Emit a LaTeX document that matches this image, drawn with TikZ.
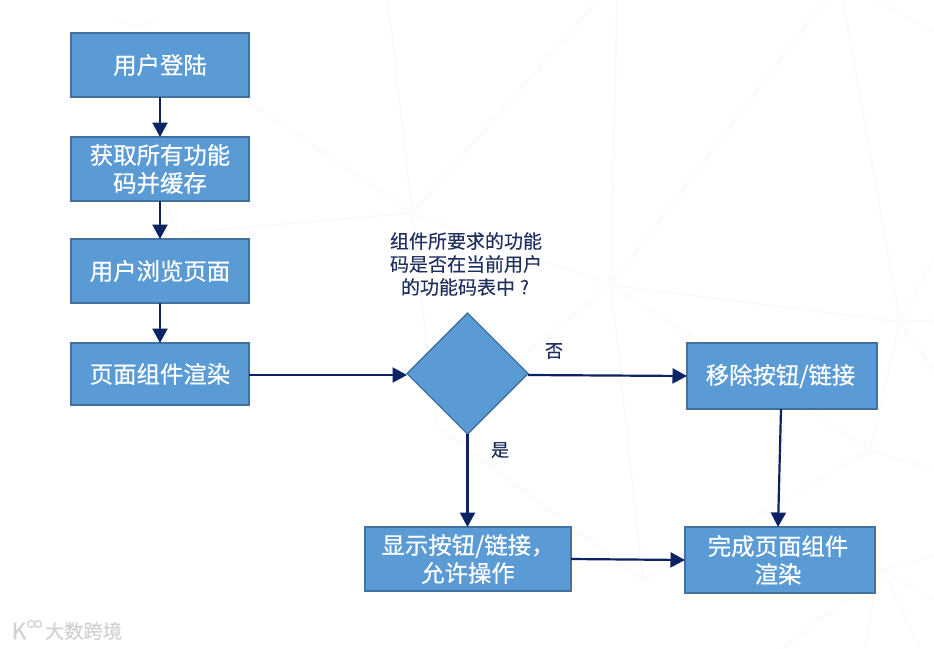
\documentclass[tikz,border=0pt]{standalone}
\usepackage{fontspec}
\setmainfont{Noto Sans CJK SC}
\newfontfamily\heavycjk[FakeBold=0.5]{Noto Sans CJK SC}
\newfontfamily\midcjk[FakeBold=0.2]{Noto Sans CJK SC}
\usetikzlibrary{shapes.geometric,arrows.meta}
\definecolor{boxfill}{HTML}{5B9BD5}
\definecolor{boxedge}{HTML}{41719C}
\definecolor{navy}{HTML}{0B2263}
\definecolor{labeltext}{HTML}{1F2F5F}
\definecolor{bgl}{HTML}{FAFAFA}
\definecolor{wm}{HTML}{D2D2D2}
\tikzset{
  flowbox/.style={rectangle,draw=boxedge,fill=boxfill,line width=1.6pt,text=white,align=center,inner sep=0pt,outer sep=0pt,font=\heavycjk\fontsize{23.4}{28}\selectfont},
  decision/.style={diamond,aspect=1,draw=boxedge,fill=boxfill,line width=1.4pt,inner sep=0pt,outer sep=0pt,minimum width=121pt,minimum height=121pt},
  flowarrow/.style={draw=navy,line width=2.2pt,-{Triangle[length=14.5pt,width=15pt]}},
  note/.style={text=labeltext,align=center,inner sep=0pt,font=\midcjk\fontsize{19}{23}\selectfont},
  branch/.style={text=labeltext,inner sep=0pt,font=\midcjk\fontsize{18}{22}\selectfont},
  bgline/.style={draw=bgl,line width=1.8pt},
  mark text/.style={text=wm,inner sep=0pt,font=\heavycjk\fontsize{19.3}{20}\selectfont},
}
\begin{document}
\begin{tikzpicture}[x=1pt,y=-1pt]
\useasboundingbox (0,0) rectangle (934,648);
% faint background web
\coordinate (A) at (611,285);
\coordinate (B) at (412,213);
\coordinate (C) at (900,322);
\coordinate (D) at (870,450);
\coordinate (E) at (643,580);
\coordinate (F) at (883,570);
\coordinate (G) at (436,425);
\draw[bgline] (617,0)--(A)--(825,0);
\draw[bgline] (B)--(A)--(C)--(843,0);
\draw[bgline] (520,358)--(A)--(D)--(934,470);
\draw[bgline] (A)--(E)--(G)--(B)--(388,0);
\draw[bgline] (B)--(598,0);
\draw[bgline] (B)--(247,100)--(163,50);
\draw[bgline] (B)--(178,233)--(163,200);
\draw[bgline] (C)--(934,258);
\draw[bgline] (C)--(934,320);
\draw[bgline] (C)--(D)--(747,522);
\draw[bgline] (C)--(934,370);
\draw[bgline] (875,0)--(934,32);
\draw[bgline] (E)--(700,550);
\draw[bgline] (F)--(934,556);
\draw[bgline] (F)--(934,600);
\draw[bgline] (F)--(920,648);
\draw[bgline] (F)--(783,648);
\draw[bgline] (873,600)--(865,648);
\draw[bgline] (117,20)--(137,27)--(157,20);
% boxes
\node[flowbox,minimum width=178pt,minimum height=64pt] (login) at (160,65) {\raisebox{-1pt}{用户登陆}};
\node[flowbox,minimum width=178pt,minimum height=64pt] (fetch) at (160,169) {获取所有功能\\码并缓存};
\node[flowbox,minimum width=178pt,minimum height=64pt] (browse) at (160,271) {\raisebox{-1pt}{用户浏览页面}};
\node[flowbox,minimum width=178pt,minimum height=62pt] (render) at (160,374) {\raisebox{-1pt}{页面组件渲染}};
\node[decision] (check) at (467.5,373.5) {};
\node[flowbox,minimum width=190pt,minimum height=66pt] (remove) at (782,376) {移除按钮/链接\hspace*{3pt}};
\node[flowbox,minimum width=206pt,minimum height=64pt] (show) at (468,559) {显示按钮/链接，\\允许操作};
\node[flowbox,minimum width=190pt,minimum height=66pt] (done) at (780,560) {完成页面组件\hspace*{4pt}\\渲染\hspace*{4pt}};
% labels
\node[note] (question) at (466,264) {组件所要求的功能\\码是否在当前用户\\的功能码表中\hspace{5pt}?\hspace*{2pt}};
\node[branch] (no) at (554,351) {否};
\node[branch] (yes) at (500,450) {是};
% connectors
\draw[flowarrow] (login.south) -- (fetch.north);
\draw[flowarrow] (fetch.south) -- (browse.north);
\draw[flowarrow] (browse.south) -- (render.north);
\draw[flowarrow] ([yshift=-1pt]render.east) -- ([yshift=-1.5pt]check.west);
\draw[flowarrow] ([yshift=-1.5pt]check.east) -- (remove.west);
\draw[flowarrow] (check.south) -- (show.north -| check.south);
\draw[flowarrow] ([xshift=-1pt]remove.south) -- ([xshift=-2pt]done.north);
\draw[flowarrow] (show.east) -- ([yshift=0pt]done.west);
% watermark
\node[mark text,font=\heavycjk\fontsize{23}{24}\selectfont] (mk) at (19,631) {K};
\draw[wm,line width=1.3pt] (31,624) circle (3.4);
\draw[wm,line width=1.3pt] (38,624) circle (3.4);
\node[mark text] (mt) at (83.5,631) {大数跨境};
\end{tikzpicture}
\end{document}
